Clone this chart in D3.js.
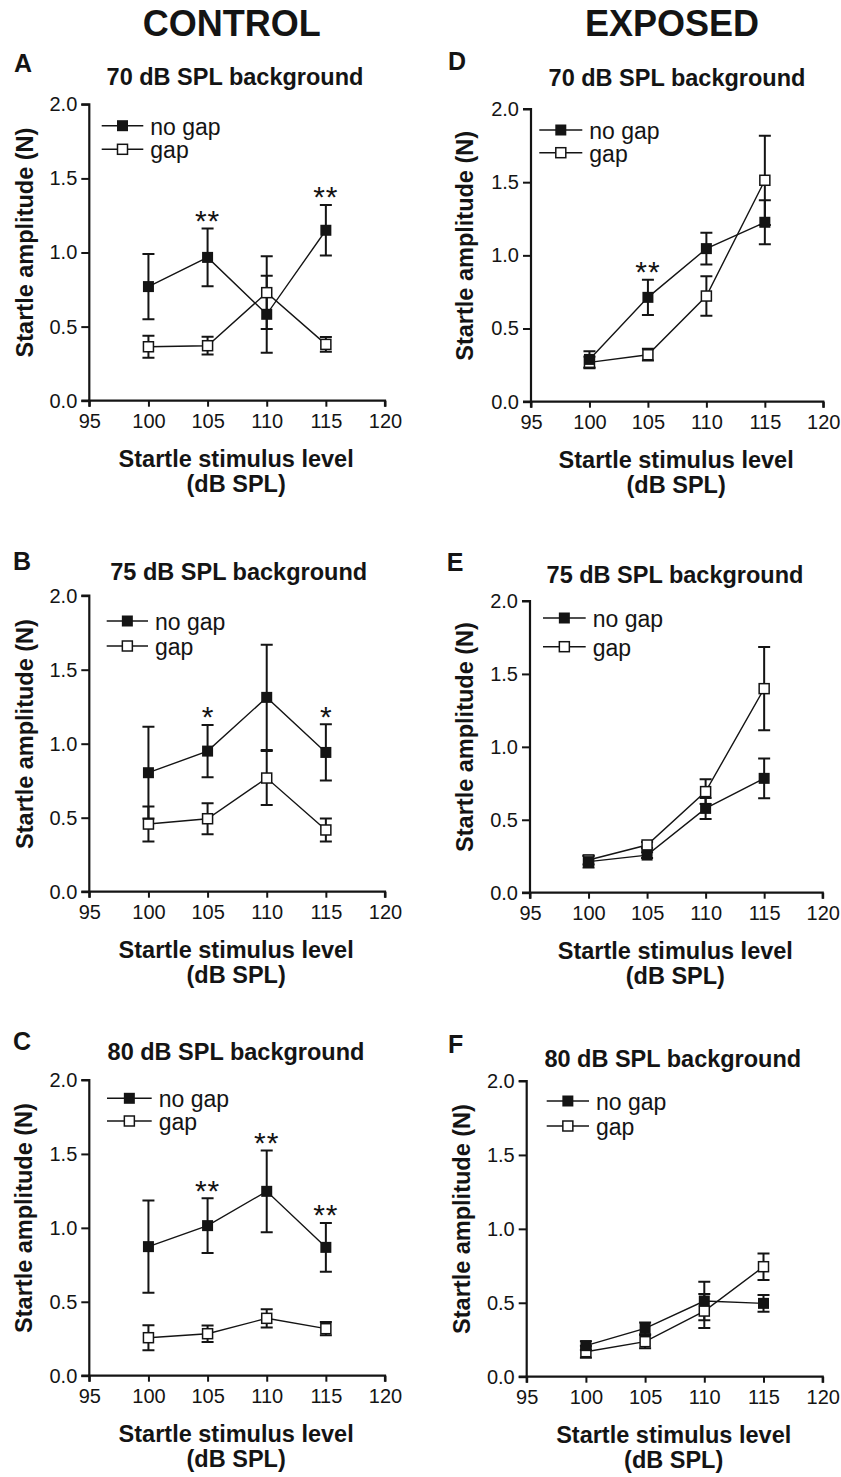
<!DOCTYPE html>
<html>
<head>
<meta charset="utf-8">
<script src="https://cdn.jsdelivr.net/npm/d3@7"></script>
<style>
  html, body { margin: 0; padding: 0; background: #fff; }
  svg { display: block; }
  text { font-family: "Liberation Sans", Arial, Helvetica, sans-serif; fill: #141414; }
</style>
</head>
<body>
<svg id="chart" width="841" height="1477"></svg>
<script>
// ---------------- DATA ----------------
const stimulusLevels = [100, 105, 110, 115];
const xTicks = [95, 100, 105, 110, 115, 120];
const yTicks = [0.0, 0.5, 1.0, 1.5, 2.0];
const columnHeaders = ["CONTROL", "EXPOSED"];
const panelLetters = ["A", "B", "C", "D", "E", "F"];
const panelTitles = ["70 dB SPL background", "75 dB SPL background", "80 dB SPL background",
                     "70 dB SPL background", "75 dB SPL background", "80 dB SPL background"];
const seriesNames = ["no gap", "gap"];

// Panel A (control, 70 dB)
const noGapA = [0.77, 0.967, 0.583, 1.15];
const noGapSemA = [0.22, 0.195, 0.26, 0.17];
const gapA = [0.364, 0.371, 0.729, 0.38];
const gapSemA = [0.075, 0.06, 0.245, 0.05];
const starsA = ["", "**", "", "**"];
// Panel B (control, 75 dB)
const noGapB = [0.804, 0.95, 1.313, 0.941];
const noGapSemB = [0.31, 0.177, 0.355, 0.19];
const gapB = [0.457, 0.493, 0.768, 0.417];
const gapSemB = [0.118, 0.105, 0.183, 0.077];
const starsB = ["", "*", "", "*"];
// Panel C (control, 80 dB)
const noGapC = [0.873, 1.015, 1.247, 0.868];
const noGapSemC = [0.312, 0.185, 0.277, 0.165];
const gapC = [0.257, 0.284, 0.388, 0.318];
const gapSemC = [0.085, 0.056, 0.062, 0.045];
const starsC = ["", "**", "**", "**"];
// Panel D (exposed, 70 dB)
const noGapD = [0.289, 0.713, 1.046, 1.226];
const noGapSemD = [0.055, 0.12, 0.108, 0.15];
const gapD = [0.269, 0.321, 0.722, 1.513];
const gapSemD = [0.04, 0.04, 0.135, 0.305];
const starsD = ["", "**", "", ""];
// Panel E (exposed, 75 dB)
const noGapE = [0.213, 0.258, 0.578, 0.784];
const noGapSemE = [0.04, 0.02, 0.072, 0.136];
const gapE = [0.224, 0.327, 0.693, 1.399];
const gapSemE = [0.03, 0.02, 0.085, 0.285];
const starsE = ["", "", "", ""];
// Panel F (exposed, 80 dB)
const noGapF = [0.21, 0.327, 0.512, 0.496];
const noGapSemF = [0.03, 0.04, 0.13, 0.056];
const gapF = [0.169, 0.237, 0.444, 0.744];
const gapSemF = [0.04, 0.045, 0.115, 0.09];
const starsF = ["", "", "", ""];

// ---------------- LAYOUT ----------------
const layout = [
  {x0: 89.3, x1: 385, yT: 104.3, yB: 400.7, tx: 235, tb: 85, lx: 14, lb: 71.5, yx: 33, ycy: 242.5, lgx1: 101.7, lgx2: 143.3, lgy: [125.7, 149.3]},
  {x0: 89.3, x1: 385, yT: 595.7, yB: 891.7, tx: 238.7, tb: 580, lx: 13, lb: 570, yx: 33, ycy: 734, lgx1: 106.7, lgx2: 148, lgy: [621, 646]},
  {x0: 89.3, x1: 385, yT: 1080, yB: 1375.7, tx: 236, tb: 1060, lx: 13, lb: 1050, yx: 32, ycy: 1218, lgx1: 107, lgx2: 151.7, lgy: [1098.3, 1121]},
  {x0: 531, x1: 823.3, yT: 109, yB: 401.7, tx: 677, tb: 86, lx: 448, lb: 70, yx: 473, ycy: 245.8, lgx1: 539.3, lgx2: 582.3, lgy: [130, 152.7]},
  {x0: 530, x1: 822.7, yT: 601, yB: 892.7, tx: 675, tb: 583.3, lx: 446.7, lb: 571, yx: 473, ycy: 737, lgx1: 543, lgx2: 585.7, lgy: [618, 646.7]},
  {x0: 526.7, x1: 822.7, yT: 1081, yB: 1376.7, tx: 672.8, tb: 1066.7, lx: 448, lb: 1053, yx: 470, ycy: 1219, lgx1: 546.7, lgx2: 589, lgy: [1101, 1126]}
];
const panelData = [
  [noGapA, noGapSemA, gapA, gapSemA, starsA],
  [noGapB, noGapSemB, gapB, gapSemB, starsB],
  [noGapC, noGapSemC, gapC, gapSemC, starsC],
  [noGapD, noGapSemD, gapD, gapSemD, starsD],
  [noGapE, noGapSemE, gapE, gapSemE, starsE],
  [noGapF, noGapSemF, gapF, gapSemF, starsF]
];

const INK = "#141414";
const svg = d3.select("#chart");

// column headers
svg.append("text").attr("x", 231.7).attr("y", 36).attr("text-anchor", "middle")
  .style("font-size", "36px").style("font-weight", "bold").text(columnHeaders[0]);
svg.append("text").attr("x", 672).attr("y", 36).attr("text-anchor", "middle")
  .style("font-size", "36px").style("font-weight", "bold").text(columnHeaders[1]);

const MS = 10; // marker size

layout.forEach((L, i) => {
  const [ng, ngS, g, gS, stars] = panelData[i];
  const x = d3.scaleLinear().domain([95, 120]).range([L.x0, L.x1]);
  const y = d3.scaleLinear().domain([0, 2]).range([L.yB, L.yT]);
  const gp = svg.append("g");

  // panel letter
  gp.append("text").attr("x", L.lx).attr("y", L.lb)
    .style("font-size", "25px").style("font-weight", "bold").text(panelLetters[i]);
  // title
  gp.append("text").attr("x", L.tx).attr("y", L.tb).attr("text-anchor", "middle")
    .style("font-size", "23.5px").style("font-weight", "bold").text(panelTitles[i]);

  // axes
  const xAxis = d3.axisBottom(x).tickValues(xTicks).tickSize(6).tickPadding(7).tickFormat(d3.format("d"));
  const yAxis = d3.axisLeft(y).tickValues(yTicks).tickSize(8).tickPadding(4).tickFormat(d3.format(".1f"));
  const gx = gp.append("g").attr("transform", `translate(0,${L.yB})`).call(xAxis);
  const gy = gp.append("g").attr("transform", `translate(${L.x0},0)`).call(yAxis);
  [gx, gy].forEach(a => {
    a.select(".domain").attr("stroke", INK).attr("stroke-width", 2.2);
    a.selectAll(".tick line").attr("stroke", INK).attr("stroke-width", 2);
    a.selectAll(".tick text").attr("fill", INK).style("font-size", "20px")
      .style("font-family", '"Liberation Sans", Arial, sans-serif');
  });
  gx.select(".domain").attr("d", `M${L.x0},6V0H${L.x1}V6`);
  gy.select(".domain").attr("d", `M-8,${L.yT}H0V${L.yB}H-8`);

  // axis titles
  gp.append("text")
    .attr("transform", `translate(${L.yx},${L.ycy}) rotate(-90)`)
    .attr("text-anchor", "middle")
    .style("font-size", "23.5px").style("font-weight", "bold")
    .text("Startle amplitude (N)");
  const cx = (L.x0 + L.x1) / 2 - 1;
  gp.append("text").attr("x", cx).attr("y", L.yB + 66).attr("text-anchor", "middle")
    .style("font-size", "23.5px").style("font-weight", "bold").text("Startle stimulus level");
  gp.append("text").attr("x", cx).attr("y", L.yB + 91).attr("text-anchor", "middle")
    .style("font-size", "23.5px").style("font-weight", "bold").text("(dB SPL)");

  const line = d3.line().x((d, k) => x(stimulusLevels[k])).y(d => y(d));
  // connecting lines
  [ng, g].forEach(s => {
    gp.append("path").attr("d", line(s)).attr("fill", "none")
      .attr("stroke", INK).attr("stroke-width", 1.4);
  });
  // error bars
  const cap = 6;
  [[ng, ngS], [g, gS]].forEach(([m, s]) => {
    m.forEach((v, k) => {
      const xx = x(stimulusLevels[k]);
      const yh = y(v + s[k]), yl = y(v - s[k]);
      gp.append("path")
        .attr("d", `M${xx},${yh}V${yl}M${xx - cap},${yh}H${xx + cap}M${xx - cap},${yl}H${xx + cap}`)
        .attr("fill", "none").attr("stroke", INK).attr("stroke-width", 2);
    });
  });
  // markers: gap (open) then no gap (filled)
  g.forEach((v, k) => {
    gp.append("rect").attr("x", x(stimulusLevels[k]) - MS / 2).attr("y", y(v) - MS / 2)
      .attr("width", MS).attr("height", MS).attr("fill", "#fff").attr("stroke", INK).attr("stroke-width", 1.5);
  });
  ng.forEach((v, k) => {
    gp.append("rect").attr("x", x(stimulusLevels[k]) - (MS + 1) / 2).attr("y", y(v) - (MS + 1) / 2)
      .attr("width", MS + 1).attr("height", MS + 1).attr("fill", INK);
  });
  // significance stars
  const sfs = 30;
  stars.forEach((s, k) => {
    if (!s) return;
    const top = y(ng[k] + ngS[k]);
    gp.append("text").attr("x", x(stimulusLevels[k])).attr("y", top - 15 + 0.58 * sfs)
      .attr("text-anchor", "middle").style("font-size", sfs + "px")
      .style("letter-spacing", s.length > 1 ? "1px" : "0px")
      .text(s);
  });

  // legend
  seriesNames.forEach((name, r) => {
    const ly = L.lgy[r];
    const mx = (L.lgx1 + L.lgx2) / 2;
    gp.append("line").attr("x1", L.lgx1).attr("x2", L.lgx2).attr("y1", ly).attr("y2", ly)
      .attr("stroke", INK).attr("stroke-width", 1.6);
    if (r === 0) {
      gp.append("rect").attr("x", mx - (MS + 1) / 2).attr("y", ly - (MS + 1) / 2)
        .attr("width", MS + 1).attr("height", MS + 1).attr("fill", INK);
    } else {
      gp.append("rect").attr("x", mx - MS / 2).attr("y", ly - MS / 2)
        .attr("width", MS).attr("height", MS).attr("fill", "#fff").attr("stroke", INK).attr("stroke-width", 1.5);
    }
    gp.append("text").attr("x", L.lgx2 + 7).attr("y", ly + 9)
      .style("font-size", "23px").text(name);
  });
});
</script>
</body>
</html>
